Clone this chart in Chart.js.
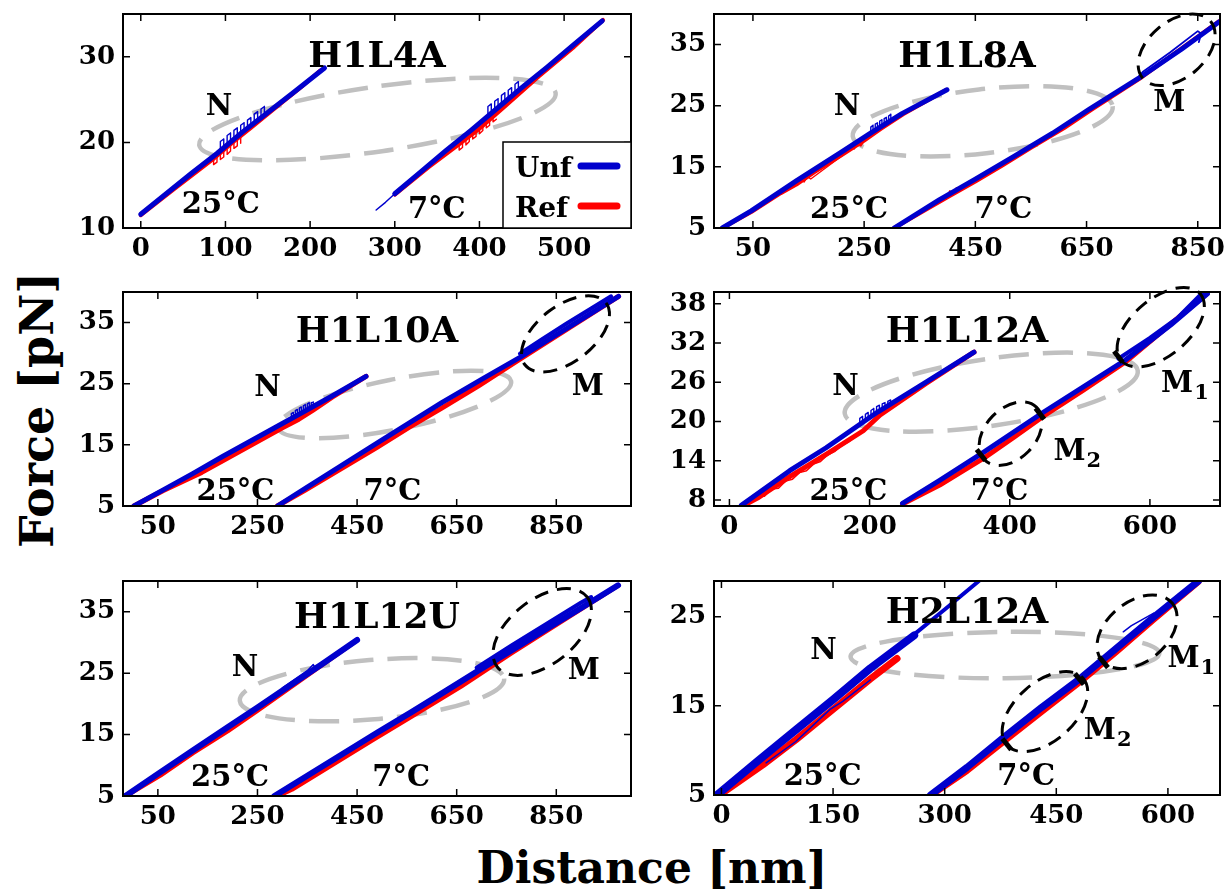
<!DOCTYPE html>
<html>
<head>
<meta charset="utf-8">
<title>Force vs distance</title>
<script src="https://cdn.jsdelivr.net/npm/chart.js@4.4.1/dist/chart.umd.min.js"></script>
<style>
  html, body { margin: 0; padding: 0; background: #fff; }
  body { width: 1225px; height: 896px; position: relative; overflow: hidden; }
  canvas { position: absolute; }
  .axis-title { position: absolute; font-family: 'DejaVu Serif', serif; font-weight: bold; line-height: 1; white-space: nowrap; color: #000; }
  #xTitle { font-size: 44px; left: 652px; top: 846px; transform: translateX(-50%); }
  #yTitle { font-size: 46px; left: 37px; top: 410px; transform: translate(-50%, -50%) rotate(-90deg); }
</style>
</head>
<body>
<div class="axis-title" id="xTitle">Distance [nm]</div>
<div class="axis-title" id="yTitle">Force [pN]</div>
<script>
  // values: [distance nm, force pN]
  const seriesNames = ['Unf', 'Ref'];
  const tempLabels = ['25°C', '7°C'];

  // H1L4A
  const h1l4aXTicks = [0, 100, 200, 300, 400, 500];
  const h1l4aYTicks = [10, 20, 30];
  const h1l4aUnf25 = [[0,11.6],[30,14.0],[60,16.4],[90,18.7],[120,21.2],[150,23.5],[180,25.8],[217,28.7]];
  const h1l4aUnf25Loops = [[94,19.0],[94,20.1],[98,20.4],[98,19.3],[102,19.6],[102,20.8],[106,21.1],[106,20.0],[110,20.3],[110,21.4],[114,21.7],[114,20.6],[118,20.9],[118,22.0],[122,22.3],[122,21.2],[126,21.5],[126,22.6],[130,22.9],[130,21.8],[134,22.2],[134,23.3],[138,23.6],[138,22.5],[142,22.8],[142,23.9],[146,24.2],[146,23.1]];
  const h1l4aRef25 = [[0,11.5],[40,14.6],[85,18.0],[110,20.1],[130,21.7],[160,24.1],[190,26.5],[212,28.4]];
  const h1l4aRef25Loops = [[86,18.3],[86,17.4],[90,17.7],[90,18.6],[94,18.9],[94,18.0],[98,18.3],[98,19.2],[102,19.5],[102,18.6],[106,19.0],[106,19.8],[110,20.1],[110,19.3],[114,19.6],[114,20.4],[118,20.7],[118,19.9]];
  const h1l4aUnf7Start = [[278,12.1],[289,13.0],[300,14.0]];
  const h1l4aUnf7 = [[300,14.0],[330,16.5],[360,19.0],[390,21.4],[420,23.9],[450,26.4],[480,28.8],[510,31.3],[545,34.2]];
  const h1l4aUnf7Loops = [[410,23.1],[410,24.2],[414,24.5],[414,23.4],[418,23.7],[418,24.8],[422,25.1],[422,24.1],[426,24.4],[426,25.5],[430,25.8],[430,24.7],[434,25.0],[434,26.1],[438,26.4],[438,25.4],[442,25.7],[442,26.8],[446,27.1],[446,26.0],[450,26.4]];
  const h1l4aRef7 = [[300,13.9],[340,17.1],[375,19.7],[400,21.6],[430,24.2],[470,27.7],[510,31.0],[546,34.3]];
  const h1l4aRef7Loops = [[376,20.1],[376,19.1],[380,19.4],[380,20.4],[384,20.7],[384,19.7],[388,20.1],[388,21.1],[392,21.4],[392,20.4],[396,20.7],[396,21.7],[400,22.0],[400,21.0],[404,21.4],[404,22.4],[408,22.7],[408,21.7],[412,22.0],[412,23.0],[416,23.4],[416,22.4],[420,22.7]];

  // H1L8A
  const h1l8aXTicks = [50, 250, 450, 650, 850];
  const h1l8aYTicks = [5, 15, 25, 35];
  const h1l8aUnf25 = [[-5,5],[47,7.8],[128,12.7],[209,17.4],[263,20.6],[318,23.7],[399,27.6]];
  const h1l8aUnf25Loops = [[262,20.5],[262,21.5],[266,21.8],[266,20.8],[270,21.0],[270,22.0],[274,22.2],[274,21.2],[278,21.4],[278,22.5],[282,22.7],[282,21.7],[286,21.9],[286,22.9],[290,23.1],[290,22.1],[294,22.3],[294,23.3],[298,23.6],[298,22.6],[302,22.8]];
  const h1l8aRef25 = [[-5,5],[47,7.6],[100,10.7],[128,12.1],[160,14.1],[209,16.9],[250,19.3],[280,21.2],[320,23.6],[398,27.6]];
  const h1l8aRef25Loops = [[122,11.8],[126,12.6],[130,12.0],[136,13.0],[142,12.5],[148,13.4],[154,13.0],[222,17.6],[227,18.4],[232,17.9],[238,18.8],[244,18.4],[250,19.2]];
  const h1l8aUnf7 = [[304,5],[385,9.6],[450,13.0],[521,16.8],[589,20.5],[656,24.5],[744,29.5],[820,34.2],[888,38.7]];
  const h1l8aUnf7Upper = [[744,29.8],[752,30.6],[800,33.7],[850,37.2],[856,36.8],[852,35.4]];
  const h1l8aRef7 = [[304,5],[399,10.0],[450,12.6],[500,15.3],[550,18.1],[609,21.3],[660,24.4],[750,29.7],[888,38.8]];
  const h1l8aRef7Loops = [[400,10.3],[404,11.1],[410,10.7],[416,11.6],[422,11.2],[428,12.1],[434,11.8],[440,12.6]];

  // H1L10A
  const h1l10aXTicks = [50, 250, 450, 650, 850];
  const h1l10aYTicks = [5, 15, 25, 35];
  const h1l10aUnf25 = [[2,5],[60,7.6],[120,10.3],[180,13.1],[240,15.8],[300,18.5],[340,20.3],[400,23.0],[468,26.2]];
  const h1l10aUnf25Loops = [[318,19.3],[318,20.1],[322,20.3],[322,19.5],[326,19.7],[326,20.6],[330,20.8],[330,19.9],[334,20.0],[334,21.0],[338,21.2],[338,20.2],[342,20.4],[342,21.4],[346,21.6],[346,20.6],[350,20.8],[350,21.7],[354,21.9],[354,20.9],[358,21.1],[358,21.9],[362,22.0],[362,21.3]];
  const h1l10aRef25 = [[2,5],[60,7.5],[138,10.5],[180,12.4],[240,15.1],[300,17.8],[333,19.2],[360,20.6],[400,22.8],[468,26.2]];
  const h1l10aUnf7 = [[290,5],[350,8.1],[420,11.7],[490,15.3],[555,18.6],[620,21.9],[700,25.7],[777,29.3],[850,33.0],[920,36.5],[975,39.3]];
  const h1l10aUnf7Upper = [[777,29.9],[820,32.2],[870,34.8],[920,37.3],[960,39.3]];
  const h1l10aRef7 = [[290,5],[346,7.6],[420,11.2],[490,14.6],[555,17.9],[620,21.0],[693,24.6],[777,29.0],[975,39.3]];

  // H1L12A
  const h1l12aXTicks = [0, 200, 400, 600];
  const h1l12aYTicks = [8, 14, 20, 26, 32, 38];
  const h1l12aUnf25 = [[17,7.2],[86,12.5],[138,16.0],[212,21.5],[280,26.0],[349,30.6]];
  const h1l12aUnf25Loops = [[186,19.6],[186,20.5],[190,20.8],[190,19.9],[194,20.2],[194,21.1],[198,21.4],[198,20.5],[202,20.8],[202,21.7],[206,22.0],[206,21.1],[210,21.4],[210,22.3],[214,22.5],[214,21.6],[218,21.9],[218,22.7],[222,22.9],[222,22.2],[226,22.4],[226,23.1],[230,23.3],[230,22.7]];
  const h1l12aRef25 = [[17,7.0],[40,8.3],[86,11.6],[138,15.0],[191,18.6],[215,21.0],[280,25.8],[349,30.6]];
  const h1l12aRef25Loops = [[30,7.6],[40,8.6],[50,8.6],[60,9.7],[70,9.8],[80,10.9],[90,11.2],[100,12.2],[110,12.5],[120,13.5],[130,13.9],[140,14.9],[150,15.4],[160,16.3],[170,16.9],[180,17.7],[190,18.4]];
  const h1l12aUnf7 = [[247,7.5],[300,11.0],[364,15.4],[449,21.5],[505,25.3],[565,29.4],[630,34.8],[682,39.5]];
  const h1l12aUnf7Upper = [[555,29.6],[600,32.8],[640,35.9],[676,39.8]];
  const h1l12aRef7 = [[247,7.4],[300,10.3],[364,14.5],[406,17.6],[449,20.9],[505,24.8],[565,29.1],[682,39.6]];
  const h1l12aRef7Loops = [[260,8.2],[268,9.1],[276,9.1],[284,10.0],[292,10.0],[300,10.8],[308,10.8],[316,11.7],[324,11.7],[332,12.6],[340,12.7],[348,13.6]];
  const h1l12aMarks = [[359,14.9],[443,21.2],[555,29.9]];

  // H1L12U
  const h1l12uXTicks = [50, 250, 450, 650, 850];
  const h1l12uYTicks = [5, 15, 25, 35];
  const h1l12uUnf25 = [[-15,5],[50,8.6],[120,12.4],[190,16.2],[250,19.4],[310,22.7],[380,26.5],[450,30.4]];
  const h1l12uUnf25Box = [[300,22.6],[350,25.4],[362,26.4],[366,25.8],[356,24.9]];
  const h1l12uRef25 = [[-15,5],[55,8.4],[120,12.0],[190,15.6],[249,18.9],[310,22.4],[450,30.4]];
  const h1l12uUnf7 = [[284,5],[350,8.3],[420,11.8],[490,15.3],[560,18.7],[630,22.2],[693,25.4],[760,28.7],[830,32.2],[900,35.6],[974,39.3]];
  const h1l12uUnf7Upper = [[690,25.9],[760,29.5],[830,33.0],[900,36.5],[920,37.4]];
  const h1l12uRef7 = [[290,5],[319,6.1],[400,10.1],[480,14.1],[560,18.0],[659,22.9],[760,28.3],[974,39.3]];

  // H2L12A
  const h2l12aXTicks = [0, 150, 300, 450, 600];
  const h2l12aYTicks = [5, 15, 25];
  const h2l12aUnf25 = [[-6,5],[50,8.9],[100,12.3],[150,15.7],[200,19.2],[259,22.9]];
  const h2l12aUnf25Tail = [[250,22.4],[300,25.8],[346,29.0]];
  const h2l12aUnf25Inner = [[60,8.6],[100,11.0],[146,14.6],[163,15.5],[200,17.9]];
  const h2l12aRef25 = [[-6,4.8],[56,8.4],[100,11.2],[150,14.6],[200,18.0],[236,20.3]];
  const h2l12aUnf7 = [[281,5],[330,8.1],[380,11.5],[430,14.8],[481,18.0],[530,21.4],[580,24.9],[641,29.0]];
  const h2l12aUnf7Box = [[540,23.3],[551,24.0],[581,25.4],[585,24.9]];
  const h2l12aRef7 = [[281,4.9],[330,7.7],[380,11.0],[430,14.3],[481,17.6],[530,21.0],[580,24.6],[641,28.9]];
  const h2l12aMarks = [[383.5,10.7],[481,18.0],[513.5,19.9]];

  const BLUE = '#0000cd';
  const RED = '#ff0000';
  const SERIF = "'DejaVu Serif', serif";

  function U(data, width) { return { data, color: BLUE, width, order: 1 }; }
  function R(data, width) { return { data, color: RED, width, order: 2 }; }

  // panel layout: plot box [left, top, width, height] in page pixels
  const panels = [
    {
      title: 'H1L4A', box: [123, 14, 508, 214], xr: [-21, 579], yr: [10, 35],
      xTicks: h1l4aXTicks, yTicks: h1l4aYTicks, titleDy: 53, legend: true,
      lines: [U(h1l4aUnf25, 5), U(h1l4aUnf25Loops, 1.4), U(h1l4aUnf7Start, 1.5), U(h1l4aUnf7, 5), U(h1l4aUnf7Loops, 1.4),
              R(h1l4aRef25, 4), R(h1l4aRef25Loops, 1.4), R(h1l4aRef7, 4), R(h1l4aRef7Loops, 1.4)],
      rings: [{ from: [69, 19.7], to: [490, 25.75], ratio: 0.18, gray: true }],
      notes: [{ text: 'N', at: [92.5, 23.2] }, { text: tempLabels[0], at: [94.5, 11.75] }, { text: tempLabels[1], at: [349.6, 11.17] }]
    },
    {
      title: 'H1L8A', box: [714, 14, 506, 214], xr: [-20, 890], yr: [5, 40],
      xTicks: h1l8aXTicks, yTicks: h1l8aYTicks, titleDy: 53,
      lines: [U(h1l8aUnf25, 5), U(h1l8aUnf25Loops, 1.4), U(h1l8aUnf7, 5), U(h1l8aUnf7Upper, 1.8),
              R(h1l8aRef25, 4), R(h1l8aRef25Loops, 1.3), R(h1l8aRef7, 4), R(h1l8aRef7Loops, 1.3)],
      rings: [{ from: [229.5, 20], to: [697, 24.9], ratio: 0.245, gray: true },
              { from: [751, 29.5], to: [873, 38.8], ratio: 0.64 }],
      notes: [{ text: 'N', at: [219.4, 23.5] }, { text: tempLabels[0], at: [222.8, 6.7] }, { text: tempLabels[1], at: [500.5, 6.7] }, { text: 'M', at: [798.6, 24.1] }]
    },
    {
      title: 'H1L10A', box: [123, 292, 508, 214], xr: [-20, 1000], yr: [5, 40],
      xTicks: h1l10aXTicks, yTicks: h1l10aYTicks, titleDy: 50,
      lines: [U(h1l10aUnf25, 5), U(h1l10aUnf25Loops, 1.4), U(h1l10aUnf7, 5), U(h1l10aUnf7Upper, 4),
              R(h1l10aRef25, 5), R(h1l10aRef7, 5)],
      rings: [{ from: [290.8, 17.8], to: [759.3, 25.4], ratio: 0.21, gray: true },
              { from: [787, 28.1], to: [950, 38.2], ratio: 0.55 }],
      notes: [{ text: 'N', at: [270, 23.0] }, { text: tempLabels[0], at: [205.8, 5.9] }, { text: tempLabels[1], at: [521, 5.9] }, { text: 'M', at: [913.3, 23.2] }]
    },
    {
      title: 'H1L12A', box: [714, 292, 506, 214], xr: [-22, 700], yr: [7.1, 39.8],
      xTicks: h1l12aXTicks, yTicks: h1l12aYTicks, titleDy: 50,
      lines: [U(h1l12aUnf25, 5), U(h1l12aUnf25Loops, 1.4), U(h1l12aUnf7, 5), U(h1l12aUnf7Upper, 4),
              R(h1l12aRef25, 5), R(h1l12aRef25Loops, 1.5), R(h1l12aRef7, 5), R(h1l12aRef7Loops, 1.5)],
      rings: [{ from: [164.6, 21.2], to: [582.6, 27.8], ratio: 0.226, gray: true },
              { from: [558.9, 29.35], to: [672, 39.5], ratio: 0.55 },
              { from: [364.4, 14.1], to: [438, 22.2], ratio: 0.68 }],
      marks: h1l12aMarks, markTurn: 52,
      notes: [{ text: 'N', at: [165.6, 24.0] }, { text: tempLabels[0], at: [169.8, 8.0] }, { text: tempLabels[1], at: [385.4, 8.0] },
              { text: 'M', sub: '1', at: [638.8, 24.5] }, { text: 'M', sub: '2', at: [485.3, 14.1] }]
    },
    {
      title: 'H1L12U', box: [123, 581, 508, 215], xr: [-20, 1000], yr: [5, 40],
      xTicks: h1l12uXTicks, yTicks: h1l12uYTicks, titleDy: 47,
      lines: [U(h1l12uUnf25, 6), U(h1l12uUnf25Box, 1.5), U(h1l12uUnf7, 6), U(h1l12uUnf7Upper, 4),
              R(h1l12uRef25, 5), R(h1l12uRef7, 5)],
      rings: [{ from: [214.5, 20.5], to: [745.4, 24.1], ratio: 0.224, gray: true },
              { from: [731.5, 26.0], to: [912, 37.4], ratio: 0.57 }],
      notes: [{ text: 'N', at: [224.9, 24.6] }, { text: tempLabels[0], at: [195, 6.7] }, { text: tempLabels[1], at: [538.6, 6.7] }, { text: 'M', at: [905, 24.1] }]
    },
    {
      title: 'H2L12A', box: [714, 581, 506, 214], xr: [-10, 670], yr: [5, 29],
      xTicks: h2l12aXTicks, yTicks: h2l12aYTicks, titleDy: 42,
      lines: [U(h2l12aUnf25, 8), U(h2l12aUnf25Tail, 4), U(h2l12aUnf25Inner, 1.5), U(h2l12aUnf7, 7), U(h2l12aUnf7Box, 1.5),
              R(h2l12aRef25, 7), R(h2l12aRef7, 6)],
      rings: [{ from: [173.5, 20.5], to: [588.5, 20.9], ratio: 0.15, gray: true },
              { from: [511, 20.1], to: [606, 26.5], ratio: 0.66 },
              { from: [383.5, 10.6], to: [486, 18.1], ratio: 0.58 }],
      marks: h2l12aMarks, markTurn: 51,
      notes: [{ text: 'N', at: [137, 20.3] }, { text: tempLabels[0], at: [136, 6.1] }, { text: tempLabels[1], at: [409.5, 6.1] },
              { text: 'M', sub: '1', at: [621, 19.4] }, { text: 'M', sub: '2', at: [508.5, 11.3] }]
    }
  ];

  function drawRing(chart, r) {
    const { ctx, scales: { x, y } } = chart;
    const x1 = x.getPixelForValue(r.from[0]), y1 = y.getPixelForValue(r.from[1]);
    const x2 = x.getPixelForValue(r.to[0]), y2 = y.getPixelForValue(r.to[1]);
    const a = Math.hypot(x2 - x1, y2 - y1) / 2;
    ctx.save();
    ctx.beginPath();
    ctx.ellipse((x1 + x2) / 2, (y1 + y2) / 2, a, a * r.ratio, Math.atan2(y2 - y1, x2 - x1), 0, Math.PI * 2);
    if (r.gray) {
      ctx.strokeStyle = '#c0c0c0'; ctx.lineWidth = 4.5; ctx.setLineDash([30, 14]);
    } else {
      ctx.strokeStyle = '#000'; ctx.lineWidth = 3; ctx.setLineDash([14, 9]);
    }
    ctx.stroke();
    ctx.restore();
  }

  function drawLegend(ctx, a) {
    const bw = 128, bh = 86;
    const bx = a.right - bw, by = a.bottom - bh;
    ctx.fillStyle = '#fff';
    ctx.fillRect(bx, by, bw, bh);
    ctx.strokeStyle = '#000'; ctx.lineWidth = 1.5;
    ctx.strokeRect(bx, by, bw, bh);
    ctx.font = 'bold 28px ' + SERIF;
    ctx.textAlign = 'left';
    ctx.fillStyle = '#000';
    [[seriesNames[0], BLUE, 35, 24], [seriesNames[1], RED, 75, 64]].forEach(([name, color, ty, ly]) => {
      ctx.fillText(name, bx + 12, by + ty);
      ctx.beginPath();
      ctx.strokeStyle = color; ctx.lineWidth = 7; ctx.lineCap = 'round';
      ctx.moveTo(bx + 78, by + ly); ctx.lineTo(bx + 114, by + ly);
      ctx.stroke();
    });
  }

  function decor(p) {
    return {
      id: 'decor',
      beforeDatasetsDraw(chart) {
        p.rings.filter(r => r.gray).forEach(r => drawRing(chart, r));
      },
      afterDatasetsDraw(chart) {
        const { ctx, chartArea: a, scales: { x, y } } = chart;
        p.rings.filter(r => !r.gray).forEach(r => drawRing(chart, r));
        ctx.save();
        // frame and inward ticks on all four sides
        ctx.strokeStyle = '#000';
        ctx.lineWidth = 2;
        ctx.strokeRect(a.left, a.top, a.right - a.left, a.bottom - a.top);
        ctx.lineWidth = 1.5;
        ctx.beginPath();
        x.ticks.forEach(t => {
          const px = x.getPixelForValue(t.value);
          ctx.moveTo(px, a.bottom); ctx.lineTo(px, a.bottom - 7);
          ctx.moveTo(px, a.top); ctx.lineTo(px, a.top + 7);
        });
        y.ticks.forEach(t => {
          const py = y.getPixelForValue(t.value);
          ctx.moveTo(a.left, py); ctx.lineTo(a.left + 7, py);
          ctx.moveTo(a.right, py); ctx.lineTo(a.right - 7, py);
        });
        ctx.stroke();
        // in-plot labels
        ctx.fillStyle = '#000';
        ctx.textBaseline = 'alphabetic';
        p.notes.forEach(n => {
          const px = x.getPixelForValue(n.at[0]), py = y.getPixelForValue(n.at[1]);
          ctx.font = 'bold 29px ' + SERIF;
          ctx.textAlign = 'center';
          ctx.fillText(n.text, px, py);
          if (n.sub) {
            const w = ctx.measureText(n.text).width;
            ctx.font = 'bold 21px ' + SERIF;
            ctx.textAlign = 'left';
            ctx.fillText(n.sub, px + w / 2 + 1, py + 7);
          }
        });
        ctx.font = 'bold 36px ' + SERIF;
        ctx.textAlign = 'center';
        ctx.fillText(p.title, (a.left + a.right) / 2, a.top + p.titleDy);
        if (p.legend) drawLegend(ctx, a);
        ctx.restore();
      }
    };
  }

  function makeChart(p) {
    const padL = 80, padT = 14, padR = 14, padB = 50;
    const [left, top, w, h] = p.box;
    const canvas = document.createElement('canvas');
    canvas.width = w + padL + padR;
    canvas.height = h + padT + padB;
    canvas.style.left = (left - padL) + 'px';
    canvas.style.top = (top - padT) + 'px';
    document.body.appendChild(canvas);

    const datasets = p.lines.map(l => ({
      data: l.data.map(([x, y]) => ({ x, y })),
      showLine: true,
      borderColor: l.color,
      borderWidth: l.width,
      borderCapStyle: 'round',
      borderJoinStyle: 'round',
      pointRadius: 0,
      fill: false,
      order: l.order
    }));
    if (p.marks) {
      datasets.push({
        data: p.marks.map(([x, y]) => ({ x, y })),
        showLine: false,
        pointStyle: 'line',
        pointRadius: 7,
        pointBorderWidth: 5,
        pointBorderColor: '#000',
        pointRotation: p.markTurn,
        order: 0
      });
    }

    const tickFont = { family: SERIF, size: 26, weight: 'bold' };
    new Chart(canvas, {
      type: 'scatter',
      data: { datasets },
      options: {
        responsive: false,
        animation: false,
        events: [],
        layout: { padding: { left: 0, top: padT, right: padR, bottom: 0 } },
        plugins: { legend: { display: false }, tooltip: { enabled: false } },
        scales: {
          x: {
            type: 'linear', min: p.xr[0], max: p.xr[1],
            grid: { display: false, drawTicks: false },
            border: { display: false },
            ticks: { font: tickFont, color: '#000', padding: 6, maxRotation: 0, autoSkip: false },
            afterBuildTicks: s => { s.ticks = p.xTicks.map(v => ({ value: v })); },
            afterFit: s => { s.height = padB; s.paddingLeft = 0; s.paddingRight = 0; }
          },
          y: {
            type: 'linear', min: p.yr[0], max: p.yr[1],
            grid: { display: false, drawTicks: false },
            border: { display: false },
            ticks: { font: tickFont, color: '#000', padding: 8, autoSkip: false },
            afterBuildTicks: s => { s.ticks = p.yTicks.map(v => ({ value: v })); },
            afterFit: s => { s.width = padL; s.paddingTop = 0; s.paddingBottom = 0; }
          }
        }
      },
      plugins: [decor(p)]
    });
  }

  panels.forEach(makeChart);
</script>
</body>
</html>
